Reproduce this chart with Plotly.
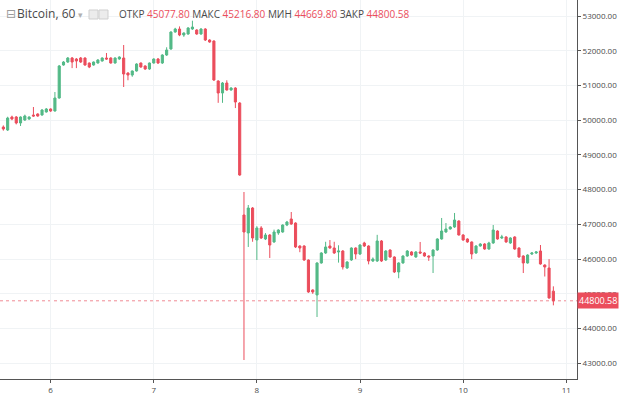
import plotly.graph_objects as go

# hours since day 6 00:00 (hourly candles)
hours = list(range(-11, 118))

opens = [49804, 49718, 50092, 50092, 49920, 50006, 50035, 50150, 50179, 50150, 50236, 50323,
         50265, 50639, 51589, 51676, 51791, 51762, 51791, 51791, 51647, 51589, 51647, 51704,
         51791, 51791, 51647, 51762, 51791, 51359, 51301, 51417, 51647, 51561, 51474, 51647,
         51762, 51647, 51877, 52050, 52539, 52626, 52453, 52482, 52626, 52597, 52482, 52626,
         52309, 52280, 51129, 50783, 51071, 50870, 50927, 50495, 47271, 46753, 47472, 46551,
         46897, 46580, 46695, 46494, 46753, 46781, 46983, 47156, 47040, 46378, 46378, 45975,
         45112, 44968, 45889, 46177, 46378, 46321, 46206, 46234, 45745, 45975, 46321, 46148,
         46465, 46378, 45946, 45946, 46523, 45975, 46263, 46062, 45630, 45889, 46090, 46206,
         46062, 46206, 46177, 46090, 46090, 46263, 46580, 46781, 46868, 46926, 47098, 46695,
         46580, 46494, 46177, 46378, 46436, 46292, 46465, 46810, 46609, 46638, 46465, 46638,
         46321, 46090, 45889, 46148, 46177, 46234, 45831, 45745, 45077.80]

highs = [49850, 50100, 50130, 50120, 50110, 50160, 50110, 50380, 50200, 50320, 50350, 50340,
         50812, 51590, 51700, 51820, 51820, 51790, 51820, 51810, 51660, 51690, 51760, 51810,
         51935, 51810, 51810, 51840, 52165, 51380, 51430, 51640, 51660, 51580, 51660, 51780,
         51790, 51900, 52100, 52560, 52660, 52700, 52530, 52680, 52865, 52620, 52650, 52650,
         52330, 52300, 51150, 51100, 51150, 50950, 50950, 50520, 47933, 47559, 47500, 46950,
         46950, 46750, 46720, 46850, 46860, 47000, 47100, 47357, 47060, 46400, 46400, 45990,
         45130, 45910, 46200, 46500, 46550, 46500, 46400, 46260, 45940, 46340, 46340, 46430,
         46500, 46400, 46050, 46700, 46550, 46260, 46280, 46080, 45910, 46110, 46260, 46230,
         46230, 46494, 46200, 46110, 46280, 46600, 47185, 47040, 46950, 47329, 47120, 46720,
         46600, 46510, 46400, 46460, 46460, 46500, 46983, 46830, 46700, 46660, 46630, 46660,
         46340, 46110, 46140, 46200, 46230, 46407, 45850, 46000, 45216.80]

lows = [49700, 49690, 50000, 49880, 49833, 49980, 50010, 50100, 50100, 50130, 50220, 50240,
        50250, 50620, 51570, 51650, 51500, 51500, 51650, 51570, 51500, 51570, 51630, 51690,
        51740, 51630, 51630, 51740, 50956, 51150, 51250, 51400, 51510, 51450, 51450, 51630,
        51620, 51620, 51850, 52030, 52520, 52420, 52400, 52460, 52600, 52460, 52460, 52280,
        52230, 51130, 50500, 50500, 50850, 50850, 50350, 48400, 43096, 46350, 46500, 45975,
        46580, 46550, 46033, 46470, 46700, 46760, 46950, 46990, 46320, 46200, 45950, 45030,
        45000, 44334, 45870, 46150, 46300, 46150, 45900, 45700, 45720, 45950, 46000, 46120,
        46350, 45850, 45920, 45920, 45920, 45950, 46040, 45600, 45450, 45870, 46070, 46100,
        46040, 46150, 46070, 45950, 45601, 46240, 46560, 46760, 46850, 46900, 46680, 46530,
        46470, 46000, 46150, 46360, 46270, 46270, 46440, 46560, 46580, 46470, 46440, 46270,
        46040, 45600, 45870, 46120, 46150, 45840, 45500, 44860, 44669.80]

closes = [49747, 50063, 50035, 49920, 50092, 50121, 50092, 50121, 50121, 50294, 50323, 50265,
          50639, 51561, 51676, 51791, 51676, 51704, 51676, 51589, 51532, 51676, 51733, 51791,
          51762, 51647, 51791, 51820, 51330, 51301, 51417, 51618, 51532, 51474, 51647, 51762,
          51647, 51877, 52021, 52539, 52626, 52453, 52511, 52655, 52683, 52482, 52626, 52309,
          52251, 51158, 50783, 51071, 50870, 50927, 50524, 48422, 46781, 47472, 46609, 46897,
          46609, 46695, 46407, 46781, 46839, 46983, 47069, 47011, 46350, 46321, 45975, 45054,
          45054, 45889, 46177, 46350, 46321, 46177, 46234, 45774, 45918, 46321, 46148, 46407,
          46378, 45946, 46004, 46523, 45946, 46234, 46062, 45630, 45889, 46090, 46234, 46119,
          46206, 46177, 46090, 46062, 46263, 46580, 46810, 46868, 46926, 47127, 46695, 46551,
          46494, 46148, 46378, 46436, 46292, 46465, 46839, 46580, 46638, 46494, 46609, 46292,
          46062, 45889, 46119, 46177, 46206, 45860, 45774, 44882, 44800.58]

day_ticks = [0, 24, 48, 72, 96, 120]
day_labels = ["6", "7", "8", "9", "10", "11"]
price_ticks = [43000, 44000, 45000, 46000, 47000, 48000, 49000, 50000, 51000, 52000, 53000]

last_price = closes[-1]
symbol = "Bitcoin, 60"
ohlc_names = ["ОТКР", "МАКС", "МИН", "ЗАКР"]
ohlc_vals = [opens[-1], highs[-1], lows[-1], closes[-1]]

UP = "#53b987"
DOWN = "#eb4d5c"
TXT = "#4a4a4a"
PW, PH = 577, 379  # plot area size in px

fig = go.Figure(go.Candlestick(
    x=hours, open=opens, high=highs, low=lows, close=closes,
    increasing=dict(line=dict(color=UP, width=1), fillcolor=UP),
    decreasing=dict(line=dict(color=DOWN, width=1), fillcolor=DOWN),
    whiskerwidth=0, hoverinfo="skip", showlegend=False,
))

# last price dotted line
fig.add_shape(type="line", xref="paper", x0=0, x1=1, yref="y", y0=last_price, y1=last_price,
              line=dict(color="#f08a95", width=1, dash="dot"), layer="below")

# last price label on axis
fig.add_annotation(xref="paper", x=1.0, yref="y", y=last_price, xanchor="left", yanchor="middle",
                   text="%.2f" % last_price, showarrow=False,
                   font=dict(family="Open Sans", size=9, color="white"),
                   bgcolor=DOWN, borderpad=1)

# header
hy = 1 - 14 / PH
fig.add_annotation(xref="paper", yref="paper", x=4 / PW, y=hy, xanchor="left", yanchor="middle",
                   text="⊟", showarrow=False, font=dict(family="DejaVu Sans", size=12, color="#9a9a9a"))
fig.add_annotation(xref="paper", yref="paper", x=15 / PW, y=hy, xanchor="left", yanchor="middle",
                   text=symbol + ' <span style="color:#b0b0b0;font-size:9px">▾</span>', showarrow=False,
                   font=dict(family="Open Sans", size=12, color=TXT))
for x0 in (89, 99):
    fig.add_shape(type="rect", xref="paper", yref="paper",
                  x0=x0 / PW, x1=(x0 + 9) / PW, y0=1 - 19 / PH, y1=1 - 10 / PH,
                  line=dict(color="#cfcfcf", width=1), fillcolor="#ececec")
parts = []
for n, v in zip(ohlc_names, ohlc_vals):
    parts.append('<span style="color:%s">%s</span> <span style="color:%s">%.2f</span>' % (TXT, n, DOWN, v))
fig.add_annotation(xref="paper", yref="paper", x=117 / PW, y=hy, xanchor="left", yanchor="middle",
                   text=" ".join(parts), showarrow=False,
                   font=dict(family="Open Sans", size=10, color=TXT))

fig.update_layout(
    width=620, height=394,
    margin=dict(l=0, r=620 - PW, t=0, b=394 - PH),
    paper_bgcolor="white", plot_bgcolor="white",
    font=dict(family="Open Sans", size=8, color=TXT),
    showlegend=False,
    xaxis=dict(range=[-11.78, 122.5], tickvals=day_ticks, ticktext=day_labels,
               rangeslider=dict(visible=False), showgrid=True, gridcolor="#f0f3f5",
               showline=True, linecolor="#555", linewidth=1, ticks="outside", ticklen=3,
               tickcolor="#555", zeroline=False, fixedrange=True),
    yaxis=dict(range=[42549, 53461], side="right", tickvals=price_ticks, tickformat=".2f",
               showgrid=True, gridcolor="#f0f3f5", showline=True, linecolor="#555", linewidth=1,
               ticks="outside", ticklen=3, tickcolor="#555", zeroline=False, fixedrange=True),
)

fig.write_html("out.html", config={"displayModeBar": False},
               post_script="document.body.style.margin='0';document.body.style.padding='0';")
